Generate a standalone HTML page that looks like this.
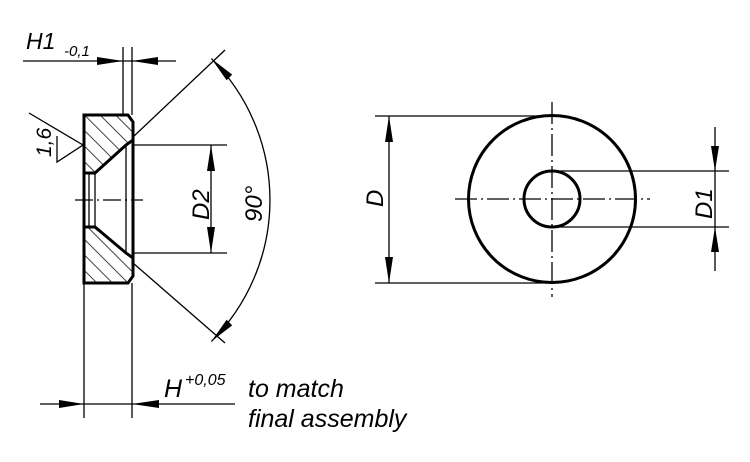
<!DOCTYPE html>
<html><head><meta charset="utf-8"><style>
html,body{margin:0;padding:0;background:#fff}
svg{display:block}
text{font-family:"Liberation Sans",sans-serif;font-style:italic;fill:#000}
</style></head><body>
<svg width="750" height="462" viewBox="0 0 750 462" xmlns="http://www.w3.org/2000/svg">
<defs>
<pattern id="h" width="11" height="11" patternUnits="userSpaceOnUse" patternTransform="rotate(-45)">
<line x1="0" y1="0" x2="0" y2="11" stroke="#000" stroke-width="1.5"/>
</pattern>
</defs>
<g stroke="#000" fill="none" stroke-width="1.3">
<polygon points="84,115 128,115 133,122 133,140 126,145 95,173 84,173" fill="url(#h)" stroke-width="3"/>
<polygon points="84,227 95,227 126,253 133,258 133,276 128,283 84,283" fill="url(#h)" stroke-width="3"/>
<line x1="84" y1="173" x2="84" y2="227" stroke-width="3"/>
<line x1="133" y1="140" x2="133" y2="258" stroke-width="3"/>
<line x1="126" y1="145" x2="126" y2="253"/>
<line x1="89" y1="173" x2="89" y2="227"/>
<line x1="95" y1="173" x2="95" y2="227"/>
<line x1="75" y1="200" x2="143" y2="200" stroke-dasharray="18,4,2,4"/>
<line x1="123" y1="47" x2="123" y2="115"/>
<line x1="132" y1="47" x2="132" y2="115"/>
<line x1="23" y1="61" x2="176" y2="61"/>
<line x1="84" y1="283" x2="84" y2="418"/>
<line x1="132" y1="283" x2="132" y2="418"/>
<line x1="40" y1="404" x2="235" y2="404"/>
<line x1="133" y1="137" x2="225" y2="50"/>
<line x1="133" y1="263" x2="225" y2="343"/>
<path d="M211.4,58.6 A200,200 0 0 1 211.4,341.4"/>
<line x1="133" y1="145" x2="227" y2="145"/>
<line x1="133" y1="253" x2="227" y2="253"/>
<line x1="211" y1="145" x2="211" y2="253"/>
<polyline points="29,113 83,145 57,162 57,136"/>
<circle cx="552" cy="199" r="83.5" stroke-width="3"/>
<circle cx="552" cy="199" r="28" stroke-width="3"/>
<line x1="455" y1="199" x2="650" y2="199" stroke-dasharray="22,4,2,4"/>
<line x1="552" y1="102" x2="552" y2="297" stroke-dasharray="22,4,2,4"/>
<line x1="375" y1="116" x2="552" y2="116"/>
<line x1="375" y1="283" x2="552" y2="283"/>
<line x1="389" y1="116" x2="389" y2="283"/>
<line x1="552" y1="171" x2="729" y2="171"/>
<line x1="552" y1="227" x2="729" y2="227"/>
<line x1="715" y1="127" x2="715" y2="271"/>
</g>
<g fill="#000">
<polygon points="123,61 97,57 97,65"/>
<polygon points="132,61 158,57 158,65"/>
<polygon points="84,404 59,400 59,408"/>
<polygon points="132,404 159,400 159,408"/>
<polygon points="211,145 207,171 215,171"/>
<polygon points="211,253 207,227 215,227"/>
<polygon points="389,116 385,142 393,142"/>
<polygon points="389,283 385,257 393,257"/>
<polygon points="715,171 711,146 719,146"/>
<polygon points="715,227 711,252 719,252"/>
<polygon points="211.4,58.6 232.2,74.6 226.6,80.2"/>
<polygon points="211.4,341.4 232.2,325.4 226.6,319.8"/>
</g>
<text x="26" y="49" font-size="23">H1</text>
<text x="64" y="56" font-size="15">-0,1</text>
<text x="164" y="397" font-size="25">H</text>
<text x="185" y="385" font-size="16">+0,05</text>
<text x="248" y="397" font-size="25">to match</text>
<text x="248" y="427" font-size="25">final assembly</text>
<text transform="translate(51,157) rotate(-90)" font-size="21">1,6</text>
<text transform="translate(209,220) rotate(-90)" font-size="24">D2</text>
<text transform="translate(262,222) rotate(-90)" font-size="24">90°</text>
<text transform="translate(383,207) rotate(-90)" font-size="24">D</text>
<text transform="translate(712,219) rotate(-90)" font-size="24">D1</text>
</svg>
</body></html>
